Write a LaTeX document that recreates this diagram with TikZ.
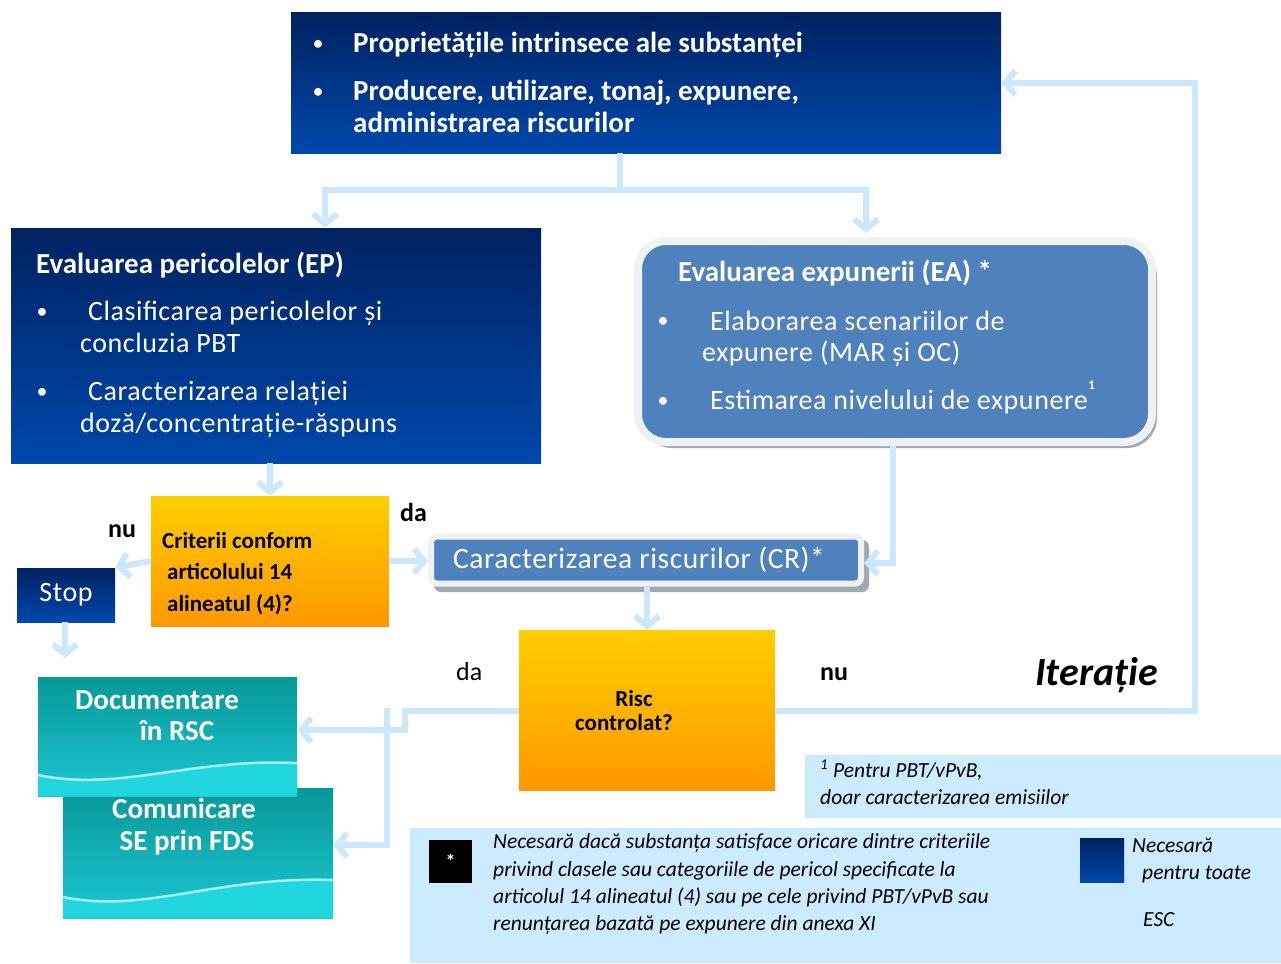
\documentclass[tikz,border=0pt]{standalone}
\usepackage{fontspec}
\setmainfont{Carlito}
\newfontfamily\spc[LetterSpace=2]{Carlito}
\usetikzlibrary{arrows.meta,calc}
\definecolor{navyT}{RGB}{0,34,96}
\definecolor{navyB}{RGB}{0,72,172}
\definecolor{connc}{RGB}{204,232,255}
\definecolor{yelT}{RGB}{255,206,0}
\definecolor{orgB}{RGB}{255,152,0}
\definecolor{steel}{RGB}{79,129,189}
\definecolor{tealT}{RGB}{8,152,152}
\definecolor{tealB}{RGB}{28,198,210}
\definecolor{cyanband}{RGB}{34,214,224}
\definecolor{notec}{RGB}{204,235,255}
\definecolor{rimc}{RGB}{240,241,242}
\definecolor{shadc}{RGB}{160,168,178}
\tikzset{
  navybox/.style={rectangle,inner sep=0pt,top color=navyT,bottom color=navyB,draw=none},
  yelbox/.style={rectangle,inner sep=0pt,top color=yelT,bottom color=orgB,draw=none},
  tealbox/.style={rectangle,inner sep=0pt,top color=tealT,bottom color=tealB,draw=none},
  steelbox/.style={rectangle,inner sep=0pt,fill=steel,draw=rimc},
  notebox/.style={rectangle,inner sep=0pt,fill=notec,draw=none},
  cline/.style={draw=connc,line width=6pt},
  carr/.style={cline,-{Straight Barb[length=10pt,width=24pt]}},
  wbold/.style={text=white,font=\fontsize{29}{31}\selectfont\bfseries,anchor=base west,inner sep=0pt},
  wreg/.style={text=white,font=\spc\fontsize{28}{30}\selectfont,anchor=base west,inner sep=0pt},
  kbold/.style={text=black,font=\fontsize{23}{25}\selectfont\bfseries,anchor=base west,inner sep=0pt},
  bul/.style={text=white,font=\fontsize{22}{24}\selectfont,anchor=center,inner sep=0pt},
  lbl/.style={text=black,font=\fontsize{26}{28}\selectfont\bfseries,anchor=base west,inner sep=0pt},
  notet/.style={text=black,font=\fontsize{21.5}{23}\selectfont\itshape,anchor=base west,inner sep=0pt},
}
\begin{document}
\begin{tikzpicture}[x=1pt,y=-1pt]
\useasboundingbox[fill=white] (0,0) rectangle (1281,963);

% ---------- top box
\node[navybox,minimum width=710pt,minimum height=140pt] (top) at (646,83) {};
\node[bul] (tb1) at (318,45) {•};
\node[bul] (tb2) at (318,93) {•};
\node[wbold] (tt1) at (353,53) {Proprietățile intrinsece ale substanței};
\node[wbold] (tt2) at (353,101) {Producere, utilizare, tonaj, expunere,};
\node[wbold] (tt3) at (353,132) {administrarea riscurilor};

% ---------- EP box
\node[navybox,minimum width=530pt,minimum height=235pt] (ep) at (276,345.5) {};
\node[wbold] (ept) at (36,273) {Evaluarea pericolelor (EP)};
\node[bul] (epb1) at (42,313) {•};
\node[bul] (epb2) at (42,393) {•};
\node[wreg] (ep1) at (88,320) {Clasificarea pericolelor și};
\node[wreg] (ep2) at (80,352) {concluzia PBT};
\node[wreg] (ep3) at (88,400) {Caracterizarea relației};
\node[wreg] (ep4) at (80,432) {doză/concentrație-răspuns};

% ---------- EA box
\fill[shadc,rounded corners=30pt] (642,247) rectangle (1157,448);
\node[steelbox,line width=8pt,rounded corners=28pt,minimum width=514pt,minimum height=201pt] (ea) at (895,341.5) {};
\node[wbold] (eat) at (678,281) {Evaluarea expunerii (EA) *};
\node[bul] (eab1) at (663,322) {•};
\node[bul] (eab2) at (663,402) {•};
\node[wreg] (ea1) at (710,330) {Elaborarea scenariilor de};
\node[wreg] (ea2) at (702,361) {expunere (MAR și OC)};
\node[wreg] (ea3) at (710,409) {Estimarea nivelului de expunere};
\node[text=white,font=\fontsize{13}{14}\selectfont\bfseries,inner sep=0pt,anchor=south west] (easup) at (ea3.north east) {1};

% ---------- criteria box
\node[yelbox,minimum width=238pt,minimum height=130pt] (crit) at (270,561) {};
\node[kbold] (cr1) at (162,548) {Criterii conform};
\node[kbold] (cr2) at (167,579) {articolului 14};
\node[kbold] (cr3) at (167,611) {alineatul (4)?};

% ---------- stop
\node[navybox,minimum width=98pt,minimum height=54pt,text=white,font=\spc\fontsize{28}{30}\selectfont] (stop) at (66,595) {Stop};

% ---------- CR box
\fill[shadc,rounded corners=7pt] (434,540) rectangle (869,592);
\node[steelbox,line width=6pt,rounded corners=6pt,minimum width=430pt,minimum height=47pt] (cr) at (646,560) {};
\node[text=white,font=\spc\fontsize{29.5}{31}\selectfont,inner sep=0pt] (crt) at (639,560) {Caracterizarea riscurilor (CR)*};

% ---------- Risc box
\node[yelbox,minimum width=256pt,minimum height=160pt] (risc) at (647,710) {};
\node[kbold,anchor=base] (rs1) at (634,706) {Risc};
\node[kbold,anchor=base] (rs2) at (624,730) {controlat?};

% ---------- labels
\node[lbl] (nu1) at (108,537) {nu};
\node[lbl] (da1) at (400,521) {da};
\node[lbl,font=\fontsize{26}{28}\selectfont] (da2) at (456,680) {da};
\node[lbl] (nu2) at (820,680) {nu};
\node[text=black,font=\fontsize{40}{42}\selectfont\bfseries\itshape,anchor=base west,inner sep=0pt] (iter) at (1035,685) {Iterație};

% ---------- communication box (behind)
\node[tealbox,minimum width=270pt,minimum height=130pt] (com) at (198,853) {};
\fill[cyanband] (63,897) .. controls (145,914) and (215,876) .. (333,880) -- (333,918) -- (63,918) -- cycle;
\draw[white!60!cyanband,line width=2.5pt] (63,897) .. controls (145,914) and (215,876) .. (333,880);
\node[wbold,anchor=base] (com1) at (184,818) {Comunicare};
\node[wbold,anchor=base] (com2) at (187,850) {SE prin FDS};

% ---------- documentation box
\node[tealbox,minimum width=259pt,minimum height=119pt] (doc) at (167.5,736.5) {};
\fill[cyanband] (38,775) .. controls (120,792) and (190,758) .. (297,763) -- (297,796) -- (38,796) -- cycle;
\draw[white!60!cyanband,line width=2.5pt] (38,775) .. controls (120,792) and (190,758) .. (297,763);
\node[wbold,anchor=base] (doc1) at (157,709) {Documentare};
\node[wbold,anchor=base] (doc2) at (177,740) {în RSC};

% ---------- notes
\node[notebox,minimum width=476pt,minimum height=63pt] (fn) at (1043,786.5) {};
\node[notet] (fn1) at (820,777) {\textsuperscript{1} Pentru PBT/vPvB,};
\node[notet] (fn2) at (820,804) {doar caracterizarea emisiilor};

\node[notebox,minimum width=871pt,minimum height=135pt] (leg) at (845.5,895.5) {};
\node[rectangle,fill=black,minimum width=43pt,minimum height=43pt,inner sep=0pt,text=white,font=\fontsize{20}{20}\selectfont\bfseries] (star) at (450.5,861.5) {*};
\node[notet] (lg1) at (493,848) {Necesară dacă substanța satisface oricare dintre criteriile};
\node[notet] (lg2) at (493,876) {privind clasele sau categoriile de pericol specificate la};
\node[notet] (lg3) at (493,903) {articolul 14 alineatul (4) sau pe cele privind PBT/vPvB sau};
\node[notet] (lg4) at (493,930) {renunțarea bazată pe expunere din anexa XI};
\node[navybox,minimum width=44pt,minimum height=44pt] (navysq) at (1102,860) {};
\node[notet] (lr1) at (1132,852) {Necesară};
\node[notet] (lr2) at (1142,879) {pentru toate};
\node[notet] (lr3) at (1143,926) {ESC};

% ---------- connectors
\coordinate (split) at (620,190);
\coordinate (epx) at (325,0);
\coordinate (eax) at (866,0);
\draw[cline] (top.south -| split) -- (split);
\draw[carr] (split) -| (ep.north -| epx);
\draw[carr] (split) -| ($(ea.north -| eax)+(0,-4)$);
\draw[carr] (crit.north |- ep.south) -- (crit.north);
\draw[carr] (crit.west) -- (stop.north east);
\coordinate (stopend) at (65,658);
\draw[carr] (stop.south -| stopend) -- (stopend);
\draw[carr] (crit.east) -- (cr.west |- crit.east);
\coordinate (eadown) at (893,563);
\draw[carr] (ea.south -| eadown) -- (eadown) -- (cr.east |- eadown);
\draw[carr] (cr.south -| risc.north) -- (risc.north);
\coordinate (itr) at (1195,711);
\draw[carr] (risc.east |- itr) -- (itr) |- (top.east);
\coordinate (dajog) at (405,711);
\coordinate (dadoc) at (405,730);
\draw[carr] (risc.west |- dajog) -- (dajog) -- (dadoc) -- (doc.east |- dadoc);
\coordinate (vtop) at (387,708);
\coordinate (vbot) at (387,845);
\draw[carr] (vtop) -- (vbot) -- (com.east |- vbot);
\end{tikzpicture}
\end{document}
